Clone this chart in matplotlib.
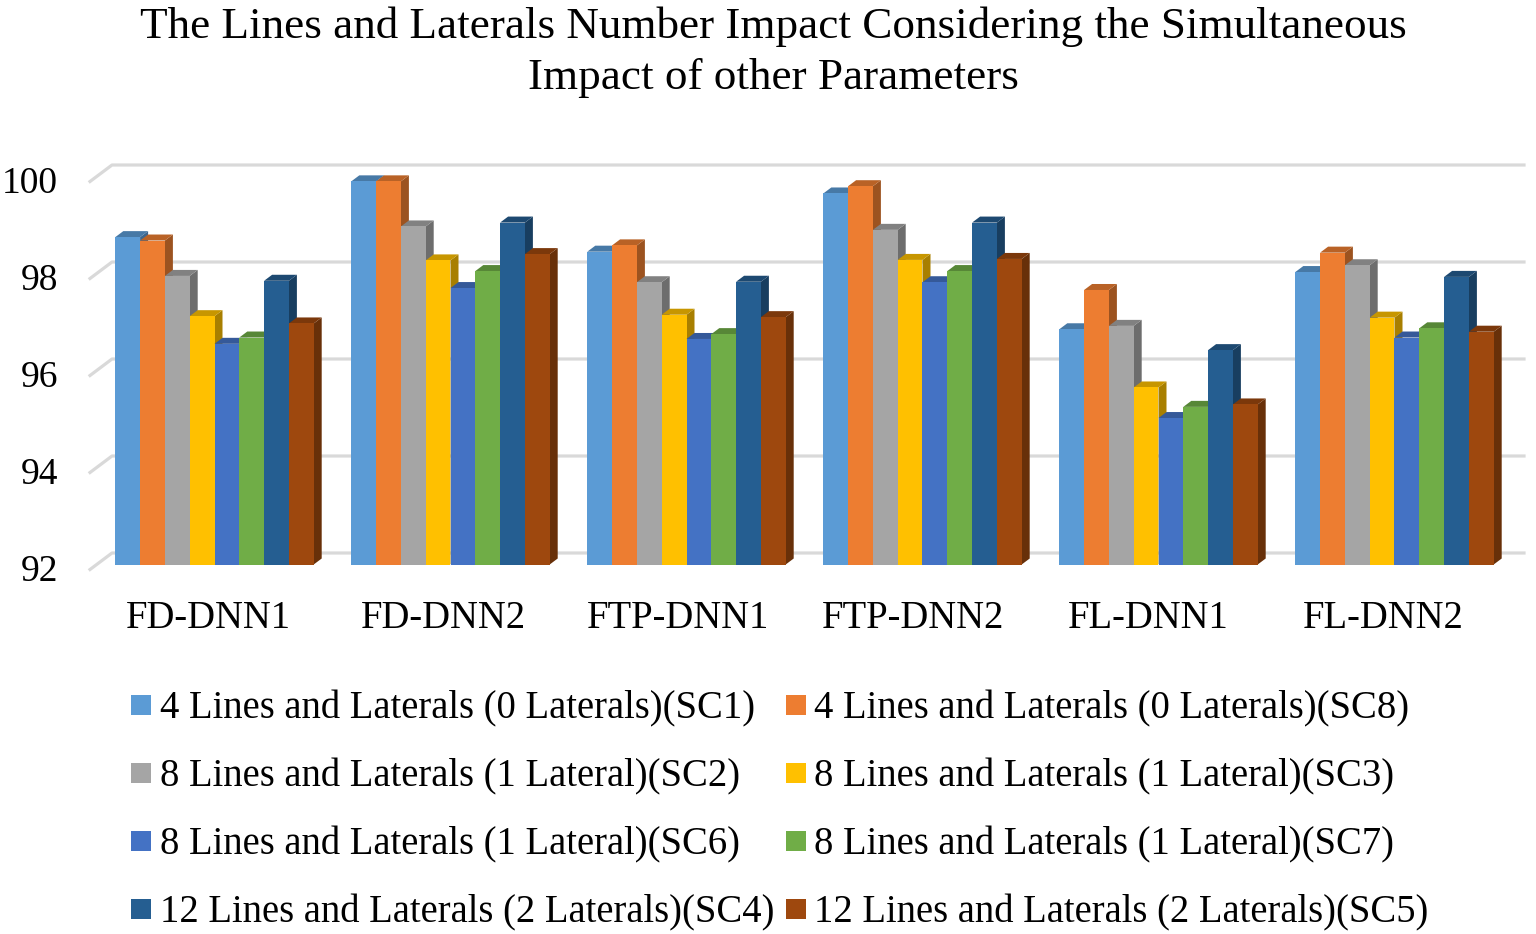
import matplotlib
matplotlib.use("Agg")
import matplotlib.pyplot as plt
from matplotlib.colors import to_rgb
from matplotlib.patches import Polygon, Rectangle
import numpy as np

plt.rcParams['font.family'] = ['Liberation Serif', 'DejaVu Serif']

# Data
groups = ['FD-DNN1', 'FD-DNN2', 'FTP-DNN1', 'FTP-DNN2', 'FL-DNN1', 'FL-DNN2']
sc1 = [98.75, 99.90, 98.45, 99.65, 96.85, 98.03]
sc8 = [98.68, 99.90, 98.58, 99.80, 97.66, 98.43]
sc2 = [97.95, 98.97, 97.82, 98.90, 96.92, 98.17]
sc3 = [97.12, 98.27, 97.15, 98.28, 95.65, 97.09]
sc6 = [96.55, 97.70, 96.65, 97.82, 95.02, 96.68]
sc7 = [96.68, 98.05, 96.75, 98.05, 95.25, 96.87]
sc4 = [97.85, 99.05, 97.83, 99.05, 96.42, 97.93]
sc5 = [96.97, 98.40, 97.10, 98.30, 95.30, 96.80]
series = [sc1, sc8, sc2, sc3, sc6, sc7, sc4, sc5]
labels = ['4 Lines and Laterals (0 Laterals)(SC1)', '4 Lines and Laterals (0 Laterals)(SC8)',
          '8 Lines and Laterals (1 Lateral)(SC2)', '8 Lines and Laterals (1 Lateral)(SC3)',
          '8 Lines and Laterals (1 Lateral)(SC6)', '8 Lines and Laterals (1 Lateral)(SC7)',
          '12 Lines and Laterals (2 Laterals)(SC4)', '12 Lines and Laterals (2 Laterals)(SC5)']
colors = ['#5B9BD5', '#ED7D31', '#A5A5A5', '#FFC000', '#4472C4', '#70AD47', '#255E91', '#9E480E']
yticks = [92, 94, 96, 98, 100]

W, H = 1536, 934
fig = plt.figure(figsize=(W / 100, H / 100), dpi=100)

# axes placed so the front plane of the bars sits where it does in the chart
px_left, px_right = 90, 1524
px_y92, px_y100 = 564.5, 176.5
ax = fig.add_axes([px_left / W, 1 - px_y92 / H, (px_right - px_left) / W, (px_y92 - px_y100) / H])
step_px = 236
center0 = 214.5
ax.set_xlim((px_left - center0) / step_px, (px_right - center0) / step_px)
ax.set_ylim(92, 100)
ax.axis('off')

per_val = (px_y92 - px_y100) / 8
per_x = 1 / step_px
bar_w = 24.8 * per_x
dx = 8 * per_x
dy = 6 / per_val


def shade(c, f):
    return tuple(v * f for v in to_rgb(c))


# back wall lines, with the short slanted piece on the left
for v in yticks:
    back_y = v + 11.5 / per_val
    front_y = v - 5 / per_val
    x0 = ax.get_xlim()[0]
    x1 = x0 + 22 * per_x
    ax.plot([x0, x1, ax.get_xlim()[1]], [front_y, back_y, back_y], color='#d9d9d9', lw=2.3,
            clip_on=False, zorder=1, solid_joinstyle='round')

# pseudo 3D bars, left to right so each one covers the side of the previous
z = 2
for i in range(len(groups)):
    for j, vals in enumerate(series):
        c = colors[j]
        left = i + (j - 4) * bar_w
        top = vals[i]
        right = left + bar_w
        ax.add_patch(Polygon([(right, 92), (right + dx, 92 + dy), (right + dx, top + dy), (right, top)],
                             facecolor=shade(c, 0.66), edgecolor='none', zorder=z, clip_on=False))
        ax.add_patch(Polygon([(left, top), (left + dx, top + dy), (right + dx, top + dy), (right, top)],
                             facecolor=shade(c, 0.78), edgecolor='none', zorder=z, clip_on=False))
        ax.bar(left, top - 92, width=bar_w, bottom=92, align='edge', color=c, zorder=z + 0.5, clip_on=False)
        z += 1

for v in yticks:
    fig.text(58 / W, 1 - (px_y92 + 7 - (v - 92) * per_val) / H, str(v), ha='right', va='center',
             fontsize=27, color='black')

for i, g in enumerate(groups):
    fig.text((208 + 235 * i) / W, 1 - 618.5 / H, g, ha='center', va='center', fontsize=27.8, color='black')

fig.text(773.5 / W, 1 - 26.5 / H, 'The Lines and Laterals Number Impact Considering the Simultaneous',
         ha='center', va='center', fontsize=32.5, color='black')
fig.text(773.5 / W, 1 - 78.5 / H, 'Impact of other Parameters',
         ha='center', va='center', fontsize=32.5, color='black')

# legend in two columns
rows_px = [705, 773, 841, 909]
col_handle = [131, 786]
col_text = [160, 814]
for k, lab in enumerate(labels):
    r = k // 2
    col = k % 2
    fig.add_artist(Rectangle((col_handle[col] / W, 1 - (rows_px[r] + 10) / H), 20 / W, 20 / H,
                             transform=fig.transFigure, facecolor=colors[k], edgecolor='none'))
    fig.text(col_text[col] / W, 1 - (rows_px[r] + 4) / H, lab, ha='left', va='center', fontsize=27.8, color='black')

fig.savefig('out.png', dpi=100)
